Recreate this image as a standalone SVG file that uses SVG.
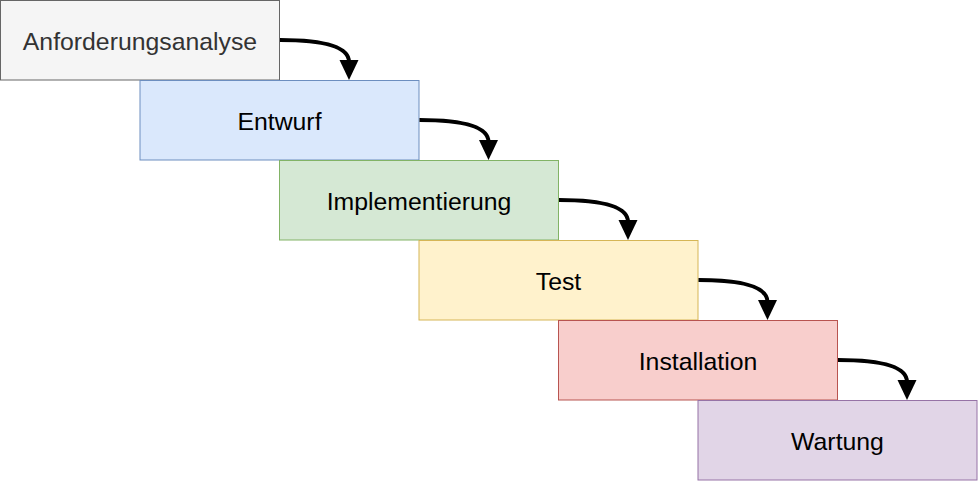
<svg xmlns="http://www.w3.org/2000/svg" width="978" height="481" viewBox="0 0 978 481">
  <style>
    .box { stroke-width: 1; }
    .lbl { font-family: "Liberation Sans", Arial, sans-serif; font-size: 24.8px; text-anchor: middle; fill: #000000; }
    .edge { fill: none; stroke: #000000; stroke-width: 4; marker-end: url(#arrow); }
  </style>
  <defs>
    <marker id="arrow" viewBox="0 0 20 20" markerWidth="20" markerHeight="20" markerUnits="userSpaceOnUse" refX="2" refY="10" orient="auto">
      <path d="M0,0.5 L20,10 L0,19.5 Z" fill="#000000"/>
    </marker>
  </defs>
  <rect width="978" height="481" fill="#ffffff"/>
  <g id="n1">
    <rect class="box" x="0.5" y="0.5" width="279" height="79.5" fill="#f5f5f5" stroke="#666666"/>
    <text class="lbl" x="140" y="49.7" style="fill:#333333">Anforderungsanalyse</text>
  </g>
  <g id="n2">
    <rect class="box" x="140" y="80.5" width="279" height="79.5" fill="#dae8fc" stroke="#6c8ebf"/>
    <text class="lbl" x="279.5" y="129.7">Entwurf</text>
  </g>
  <g id="n3">
    <rect class="box" x="279.5" y="160.5" width="279" height="79.5" fill="#d5e8d4" stroke="#82b366"/>
    <text class="lbl" x="419" y="209.7">Implementierung</text>
  </g>
  <g id="n4">
    <rect class="box" x="419" y="240.5" width="279" height="79.5" fill="#fff2cc" stroke="#d6b656"/>
    <text class="lbl" x="558.5" y="289.7">Test</text>
  </g>
  <g id="n5">
    <rect class="box" x="558.5" y="320.5" width="279" height="79.5" fill="#f8cecc" stroke="#b85450"/>
    <text class="lbl" x="698" y="369.7">Installation</text>
  </g>
  <g id="n6">
    <rect class="box" x="698" y="400.5" width="279" height="79.5" fill="#e1d5e7" stroke="#9673a6"/>
    <text class="lbl" x="837.5" y="449.7">Wartung</text>
  </g>
  <g id="edges">
    <path class="edge" d="M280,40 Q349,40 349,62"/>
    <path class="edge" d="M419.5,120 Q488.5,120 488.5,142"/>
    <path class="edge" d="M559,200 Q628,200 628,222"/>
    <path class="edge" d="M698.5,280 Q767.5,280 767.5,302"/>
    <path class="edge" d="M838,360 Q907,360 907,382"/>
  </g>
</svg>
